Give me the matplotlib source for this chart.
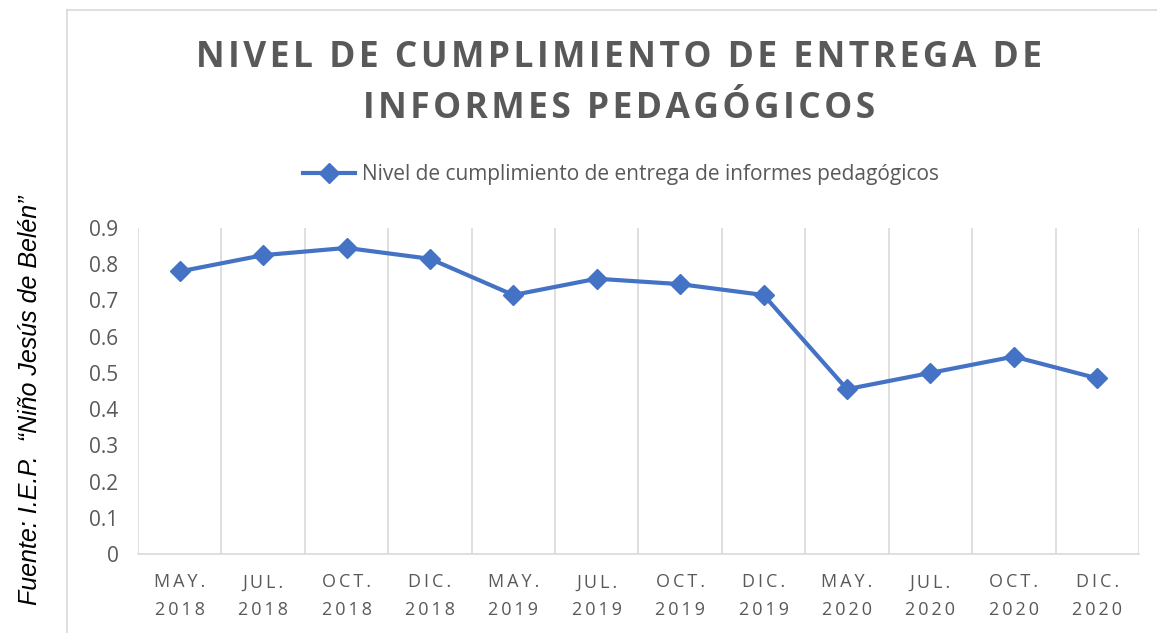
import matplotlib.pyplot as plt
from matplotlib.lines import Line2D

plt.rcParams['font.family'] = ['Open Sans', 'DejaVu Sans']

# data
meses = ["MAY.", "JUL.", "OCT.", "DIC.", "MAY.", "JUL.", "OCT.", "DIC.",
         "MAY.", "JUL.", "OCT.", "DIC."]
anios = ["2018", "2018", "2018", "2018", "2019", "2019", "2019", "2019",
         "2020", "2020", "2020", "2020"]
nivel = [0.78, 0.825, 0.845, 0.815, 0.715, 0.76, 0.745, 0.715,
         0.455, 0.50, 0.545, 0.485]
serie = "Nivel de cumplimiento de entrega de informes pedagógicos"
titulo = ["NIVEL DE CUMPLIMIENTO DE ENTREGA DE", "INFORMES PEDAGÓGICOS"]
fuente = "Fuente: I.E.P.  \u201cNiño Jesús de Belén\u201d"


def espaciar(s, sep="\u2009"):
    # Excel style letter spacing
    return sep.join(s)


labels = [espaciar(m) + "\n" + espaciar(a) for m, a in zip(meses, anios)]

fig = plt.figure(figsize=(11.57, 6.33), dpi=100)
ax = fig.add_axes([0.1193, 0.1248, 0.8651, 0.515])

x = list(range(len(nivel)))
ax.plot(x, nivel, color="#4472C4", linewidth=3, marker="D", markersize=10.5,
        label=serie)

ax.set_xlim(-0.5, len(nivel) - 0.5)
ax.set_ylim(0, 0.9)
ax.set_yticks([i / 10 for i in range(10)])
ax.set_yticklabels(["0"] + ["0.%d" % i for i in range(1, 10)])
ax.set_xticks(x)
ax.set_xticklabels(labels, linespacing=1.7)
ax.set_xticks([i - 0.5 for i in range(len(nivel) + 1)], minor=True)
ax.grid(True, which="minor", axis="x", color="#D9D9D9", linewidth=1.2)
ax.tick_params(axis="both", which="both", length=0)
ax.tick_params(axis="y", labelsize=15, colors="#595959", pad=14)
ax.tick_params(axis="x", labelsize=13, colors="#595959", pad=14)

for s in ["top", "right", "left"]:
    ax.spines[s].set_visible(False)
ax.spines["bottom"].set_color("#D9D9D9")
ax.spines["bottom"].set_linewidth(1.2)

fig.text(0.535, 0.908, espaciar(titulo[0], "\u200a"), ha="center", va="center",
         fontsize=25.5, fontweight="bold", color="#595959")
fig.text(0.535, 0.828, espaciar(titulo[1], "\u200a"), ha="center", va="center",
         fontsize=25.5, fontweight="bold", color="#595959")

leg_handle = Line2D([], [], color="#4472C4", linewidth=3, marker="D",
                    markersize=10.5)
fig.legend([leg_handle], [serie], loc="center", bbox_to_anchor=(0.537, 0.724),
           frameon=False, fontsize=15, labelcolor="#595959", handlelength=2.5,
           handletextpad=0.35)

fig.text(0.026, 0.368, fuente, rotation=90, ha="center", va="center",
         fontsize=18, style="italic", family=["Liberation Sans", "DejaVu Sans"])

# chart area border
fig.add_artist(Line2D([0.058, 0.058], [0, 0.984], color="#D9D9D9", linewidth=1.2))
fig.add_artist(Line2D([0.058, 1], [0.984, 0.984], color="#D9D9D9", linewidth=1.2))

fig.savefig("out.png", dpi=100)
